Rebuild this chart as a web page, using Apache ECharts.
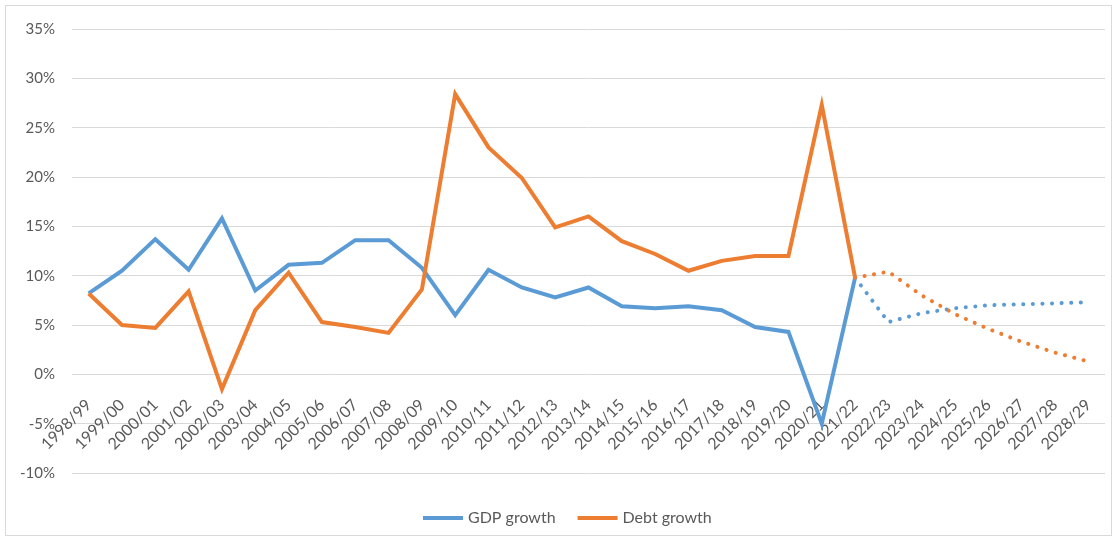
<!DOCTYPE html>
<html>
<head>
<meta charset="utf-8">
<script src="https://cdn.jsdelivr.net/npm/echarts@6/dist/echarts.min.js"></script>
<style>
  html, body { margin: 0; padding: 0; background: #fff; }
  #frame { position: absolute; left: 5px; top: 5px; width: 1107px; height: 531px; border: 1px solid #d9d9d9; box-sizing: border-box; }
  #chart { position: absolute; left: 0; top: 0; width: 1115px; height: 539px; }
</style>
</head>
<body>
<div id="frame"></div>
<div id="chart"></div>
<script>
// Financial years on the category axis
const years = ['1998/99','1999/00','2000/01','2001/02','2002/03','2003/04','2004/05','2005/06',
  '2006/07','2007/08','2008/09','2009/10','2010/11','2011/12','2012/13','2013/14','2014/15',
  '2015/16','2016/17','2017/18','2018/19','2019/20','2020/21','2021/22','2022/23','2023/24',
  '2024/25','2025/26','2026/27','2027/28','2028/29'];

// Outturn growth rates, %, 1998/99 to 2021/22
const gdpActual = [8.2, 10.5, 13.7, 10.6, 15.8, 8.5, 11.1, 11.3, 13.6, 13.6, 10.8, 6.0,
  10.6, 8.8, 7.8, 8.8, 6.9, 6.7, 6.9, 6.5, 4.8, 4.3, -5.0, 9.8];
const debtActual = [8.2, 5.0, 4.7, 8.4, -1.5, 6.5, 10.3, 5.3, 4.8, 4.2, 8.6, 28.4,
  23.0, 19.9, 14.9, 16.0, 13.5, 12.2, 10.5, 11.5, 12.0, 12.0, 27.3, 9.8];

// Projected growth rates, %, 2021/22 to 2028/29
const gdpForecast = [9.8, 5.3, 6.2, 6.7, 7.0, 7.1, 7.2, 7.3];
const debtForecast = [9.8, 10.4, 8.0, 6.1, 4.6, 3.3, 2.2, 1.3];

// Y-axis range and step, %
const yMin = -10, yMax = 35, yStep = 5;

const blue = '#5B9BD5';
const orange = '#ED7D31';
const textColor = '#595959';
const font = 'Lato, "Open Sans", sans-serif';

const padHead = (arr) => arr.concat(Array(years.length - arr.length).fill(null));
const padTail = (arr) => Array(years.length - arr.length).fill(null).concat(arr);

const gridTop = 29, gridBottom = 66, chartHeight = 539;
// Category axis sits on the 0% line: shift it up from the grid bottom
const plotHeight = chartHeight - gridTop - gridBottom;
const zeroShift = plotHeight * (0 - yMin) / (yMax - yMin);

const chart = echarts.init(document.getElementById('chart'));
chart.setOption({
  animation: false,
  textStyle: { fontFamily: font },
  grid: { left: 72, right: 10, top: gridTop, bottom: gridBottom, containLabel: false },
  legend: {
    left: 418, top: 505,
    itemWidth: 40, itemHeight: 4, itemGap: 22,
    icon: 'rect',
    textStyle: { fontSize: 16, color: textColor, fontFamily: font },
    data: ['GDP growth', 'Debt growth']
  },
  xAxis: {
    type: 'category',
    data: years,
    boundaryGap: true,
    position: 'bottom',
    offset: -zeroShift,
    axisLine: { show: false },
    axisTick: { show: false },
    axisLabel: { rotate: 45, fontSize: 16, color: textColor, margin: 28, interval: 0, fontFamily: font }
  },
  yAxis: {
    type: 'value',
    min: yMin, max: yMax, interval: yStep,
    axisLine: { show: false },
    axisTick: { show: false },
    splitLine: { lineStyle: { color: '#d9d9d9', width: 1 } },
    axisLabel: { formatter: '{value}%', fontSize: 15, color: textColor, margin: 17, fontFamily: font }
  },
  series: [
    {
      name: 'GDP growth', type: 'line', data: padHead(gdpActual),
      symbol: 'none', color: blue,
      lineStyle: { color: blue, width: 4, join: 'miter' }
    },
    {
      name: 'Debt growth', type: 'line', data: padHead(debtActual),
      symbol: 'none', color: orange,
      lineStyle: { color: orange, width: 4, join: 'miter' }
    },
    {
      name: 'GDP forecast', type: 'line', data: padTail(gdpForecast),
      symbol: 'none', color: blue,
      lineStyle: { color: blue, width: 4, type: [0.1, 9.5], cap: 'round' }
    },
    {
      name: 'Debt forecast', type: 'line', data: padTail(debtForecast),
      symbol: 'none', color: orange,
      lineStyle: { color: orange, width: 4, type: [0.1, 9.5], cap: 'round' }
    }
  ]
});
</script>
</body>
</html>
